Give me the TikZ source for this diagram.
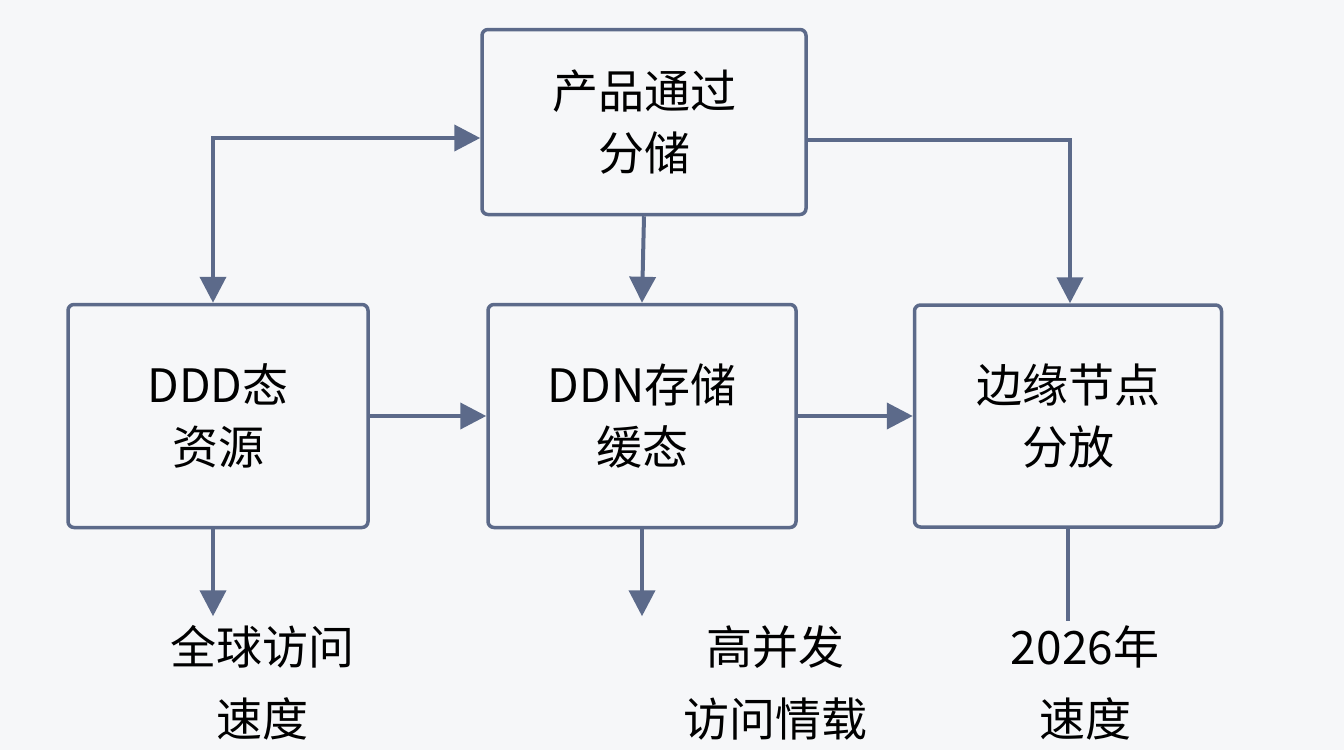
\documentclass[tikz,border=0pt]{standalone}
\usepackage{fontspec}
\setmainfont{Noto Sans CJK SC}
\usetikzlibrary{arrows.meta}
\definecolor{slate}{RGB}{92,106,138}
\definecolor{paper}{RGB}{246,247,249}
\tikzset{
  box/.style={draw=slate,line width=3.5pt,rounded corners=6pt,fill=paper,align=center,font=\fontsize{46}{62}\selectfont},
  lbl/.style={align=center,font=\fontsize{46}{72}\selectfont,anchor=north},
  flow/.style={draw=slate,line width=4pt,-{Triangle[length=26pt,width=26pt]}},
}
\begin{document}
\begin{tikzpicture}[x=1pt,y=-1pt]
\fill[paper] (0,0) rectangle (1344,750);
\useasboundingbox (0,0) rectangle (1344,750);
\node[box,minimum width=324pt,minimum height=185pt] (prod) at (644,122) {产品通过\\分储};
\node[box,minimum width=300pt,minimum height=223pt] (ddd) at (218,416) {DDD态\\资源};
\node[box,minimum width=308pt,minimum height=223pt] (ddn) at (642,416) {DDN存储\\缓态};
\node[box,minimum width=307pt,minimum height=222pt] (edge) at (1068,416) {边缘节点\\分放};
\coordinate (lc) at (213,138);
\coordinate (rc) at (1070,140);
% top connections
\draw[flow,{Triangle[length=26pt,width=26pt]}-{Triangle[length=26pt,width=26pt]}] (ddd.north -| lc) -- (lc) -- (prod.west |- lc);
\draw[flow] (prod.east |- rc) -- (rc) -- (edge.north -| rc);
\draw[flow] (prod.south) -- (ddn.north);
% row
\draw[flow] (ddd.east) -- (ddn.west);
\draw[flow] (ddn.east) -- (edge.west);
% outputs
\node[lbl] (speed) at (262,622) {全球访问\\速度};
\node[lbl] (load) at (775,622) {高并发\\访问情载};
\node[lbl] (year) at (1085,622) {2026年\\速度};
\draw[flow] (ddd.south -| lc) -- ++(0,87);
\draw[flow] (ddn.south) -- ++(0,87);
\draw[draw=slate,line width=4pt] (edge.south) -- ++(0,92);
\end{tikzpicture}
\end{document}
